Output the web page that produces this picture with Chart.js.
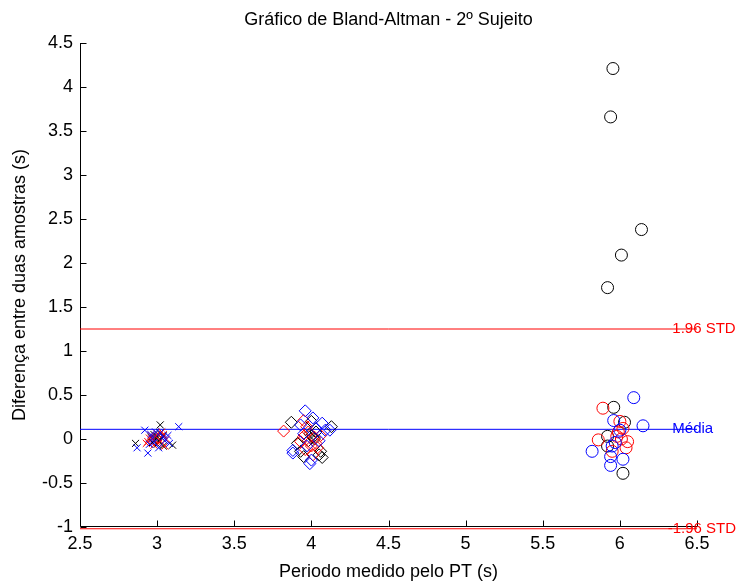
<!DOCTYPE html>
<html>
<head>
<meta charset="utf-8">
<script src="https://cdn.jsdelivr.net/npm/chart.js@4.4.0/dist/chart.umd.min.js"></script>
<style>
  html, body { margin: 0; padding: 0; background: #fff; }
  canvas { display: block; }
</style>
</head>
<body>
<canvas id="c" width="745" height="586"></canvas>
<script>
// ---- Data ----
const chartTitle = 'Gráfico de Bland-Altman - 2º Sujeito';
const xAxisTitle = 'Periodo medido pelo PT (s)';
const yAxisTitle = 'Diferença entre duas amostras (s)';

const xTicks = [2.5, 3, 3.5, 4, 4.5, 5, 5.5, 6, 6.5];
const yTicks = [-1, -0.5, 0, 0.5, 1, 1.5, 2, 2.5, 3, 3.5, 4, 4.5];

const meanDiff = 0.11;
const upperLoA = 1.25;
const lowerLoA = -1.02;
const lineLabels = ['1.96 STD', 'Média', '-1.96 STD'];
const lineLabelX = [6.34, 6.34, 6.31];

// Period ~3 s (crosses)
const p3Blue  = [[2.92,0.10],[3.14,0.14],[2.94,-0.16],[2.87,-0.10],[2.96,0.05],[2.98,-0.04],[3.02,0.07],[3.05,-0.02],[3.07,0.04],[2.99,0.08],[3.01,-0.10],[2.95,-0.06],[3.04,0.02],[3.08,-0.05],[2.97,0.01]];
const p3Red   = [[2.94,-0.03],[2.96,0.04],[2.98,-0.07],[3.00,0.06],[3.02,-0.02],[3.04,0.05],[2.97,0.00],[3.01,-0.05],[3.05,-0.08],[2.99,0.03],[2.95,0.01],[3.03,0.08],[3.06,0.00],[2.93,-0.05]];
const p3Black = [[3.02,0.16],[2.86,-0.05],[3.10,-0.07],[3.04,-0.08],[2.99,0.00],[3.00,0.03],[3.01,-0.02],[2.98,0.05],[3.03,0.01],[2.97,-0.04],[3.02,0.07],[3.00,-0.06],[2.96,0.02],[3.04,0.04]];

// Period ~4 s (diamonds)
const p4Blue  = [[3.96,0.32],[4.01,0.24],[4.07,0.18],[4.09,0.10],[4.12,0.10],[3.93,0.16],[3.88,-0.13],[3.88,-0.16],[4.00,-0.24],[3.99,-0.28],[3.95,0.06],[4.03,0.12],[4.05,-0.02],[3.97,-0.08]];
const p4Red   = [[3.82,0.09],[3.95,0.21],[3.97,0.14],[3.95,0.03],[3.93,-0.03],[4.03,-0.05],[4.00,-0.08],[4.04,-0.10],[4.01,-0.18],[3.98,0.08],[4.02,0.02],[3.96,-0.12],[4.06,0.04]];
const p4Black = [[3.87,0.19],[4.00,0.20],[4.13,0.14],[4.00,0.04],[4.01,0.02],[3.99,0.06],[4.02,0.00],[3.91,-0.05],[3.93,-0.14],[4.06,-0.14],[3.95,-0.20],[4.07,-0.21],[4.05,-0.18],[4.03,0.08],[3.98,-0.02]];

// Period ~6 s (circles)
const p6Blue  = [[6.09,0.47],[5.96,0.21],[6.15,0.15],[5.95,-0.08],[5.82,-0.14],[5.94,-0.20],[6.02,-0.23],[5.94,-0.30],[6.00,0.10],[5.97,-0.04]];
const p6Red   = [[5.89,0.35],[6.00,0.20],[5.99,0.08],[5.98,0.03],[5.86,-0.01],[6.05,-0.03],[6.01,0.00],[6.04,-0.10],[5.95,-0.14],[6.02,0.12]];
const p6Black = [[5.955,4.21],[5.94,3.66],[6.14,2.38],[6.01,2.09],[5.92,1.72],[5.96,0.36],[6.03,0.19],[5.92,0.03],[5.92,-0.08],[6.02,-0.39]];

// ---- Build chart ----
const BLUE = 'rgb(0,0,255)', RED = 'rgb(255,0,0)', BLACK = 'rgb(0,0,0)';
const FONT = '"Liberation Sans", Arial, sans-serif';
const toPts = arr => arr.map(([x, y]) => ({x, y}));
const xMin = xTicks[0], xMax = xTicks[xTicks.length - 1];
const yMin = yTicks[0], yMax = yTicks[yTicks.length - 1];

function scatterSet(arr, color, style, radius) {
  return {
    type: 'scatter', data: toPts(arr), showLine: false,
    pointStyle: style, pointRadius: radius, pointBorderWidth: 1,
    borderColor: color, backgroundColor: 'rgba(0,0,0,0)',
    pointBorderColor: color, pointBackgroundColor: 'rgba(0,0,0,0)'
  };
}
function hLine(v, color) {
  return {
    type: 'line', data: [{x: xMin, y: v}, {x: xMax, y: v}],
    borderColor: color, borderWidth: 1, pointRadius: 0, fill: false, clip: false
  };
}

const axesPlugin = {
  id: 'matlabAxes',
  beforeDatasetsDraw(chart) {
    const {ctx, chartArea: a, scales: {x, y}} = chart;
    ctx.save();
    ctx.strokeStyle = '#000';
    ctx.lineWidth = 1;
    const L = Math.round(a.left) + 0.5, B = Math.round(a.bottom) - 0.5;
    ctx.beginPath();
    ctx.moveTo(L, a.top); ctx.lineTo(L, B); ctx.lineTo(a.right, B);
    x.ticks.forEach(t => {
      const px = Math.round(x.getPixelForValue(t.value)) + 0.5;
      ctx.moveTo(px, B); ctx.lineTo(px, B - 6);
    });
    y.ticks.forEach(t => {
      const py = Math.round(y.getPixelForValue(t.value)) + 0.5;
      ctx.moveTo(L, py); ctx.lineTo(L + 6, py);
    });
    ctx.stroke();
    // title centred over the plot area
    ctx.fillStyle = '#000';
    ctx.font = '18px ' + FONT;
    ctx.textAlign = 'center';
    ctx.textBaseline = 'middle';
    ctx.fillText(chartTitle, (a.left + a.right) / 2, 20);
    ctx.restore();
  },
  afterDatasetsDraw(chart) {
    const {ctx, scales: {x, y}} = chart;
    const vals = [upperLoA, meanDiff, lowerLoA];
    const cols = [RED, BLUE, RED];
    ctx.save();
    ctx.font = '15px ' + FONT;
    ctx.textAlign = 'left';
    ctx.textBaseline = 'middle';
    vals.forEach((v, i) => {
      ctx.fillStyle = cols[i];
      ctx.fillText(lineLabels[i], x.getPixelForValue(lineLabelX[i]), y.getPixelForValue(v));
    });
    ctx.restore();
  }
};

new Chart(document.getElementById('c'), {
  data: {
    datasets: [
      scatterSet(p3Blue, BLUE, 'crossRot', 5),
      scatterSet(p3Red, RED, 'crossRot', 5),
      scatterSet(p3Black, BLACK, 'crossRot', 5),
      scatterSet(p4Blue, BLUE, 'rectRot', 6),
      scatterSet(p4Red, RED, 'rectRot', 6),
      scatterSet(p4Black, BLACK, 'rectRot', 6),
      scatterSet(p6Blue, BLUE, 'circle', 6),
      scatterSet(p6Red, RED, 'circle', 6),
      scatterSet(p6Black, BLACK, 'circle', 6),
      hLine(upperLoA, RED),
      hLine(meanDiff, BLUE),
      hLine(lowerLoA, RED)
    ]
  },
  options: {
    responsive: false,
    animation: false,
    devicePixelRatio: 1,
    layout: { padding: { left: 0, right: 48, top: 43, bottom: 0 } },
    plugins: {
      legend: { display: false },
      tooltip: { enabled: false },
      title: { display: false }
    },
    scales: {
      x: {
        type: 'linear', position: 'bottom', min: xMin, max: xMax,
        afterBuildTicks: s => { s.ticks = xTicks.map(v => ({value: v})); },
        afterFit: s => { s.height = 59; },
        grid: { display: false, drawTicks: false },
        border: { display: false },
        ticks: { color: '#000', font: { family: FONT, size: 18 }, padding: 6, maxRotation: 0, autoSkip: false,
                 callback: v => String(v) },
        title: { display: true, text: xAxisTitle, color: '#000', font: { family: FONT, size: 18 }, padding: { top: 0, bottom: 3 } }
      },
      y: {
        type: 'linear', position: 'left', min: yMin, max: yMax,
        afterBuildTicks: s => { s.ticks = yTicks.map(v => ({value: v})); },
        afterFit: s => { s.width = 80; },
        grid: { display: false, drawTicks: false },
        border: { display: false },
        ticks: { color: '#000', font: { family: FONT, size: 18 }, padding: 7, autoSkip: false,
                 callback: v => String(v) },
        title: { display: true, text: yAxisTitle, color: '#000', font: { family: FONT, size: 18 }, padding: { top: 9, bottom: 0 } }
      }
    }
  },
  plugins: [axesPlugin]
});
</script>
</body>
</html>
